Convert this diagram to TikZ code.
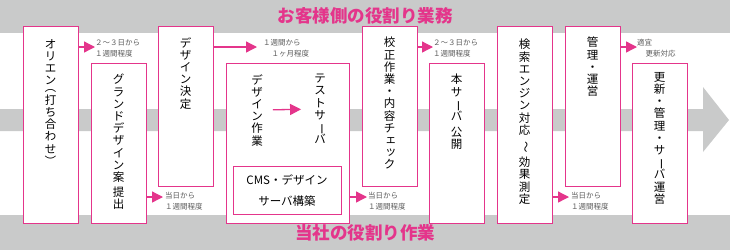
\documentclass[tikz,border=0pt]{standalone}
\usepackage{fontspec}
\usepackage{graphicx}
\usetikzlibrary{arrows.meta,calc}
\newfontfamily\jp{Noto Sans CJK JP}
\definecolor{pk}{HTML}{E4358B}
\definecolor{bandgray}{HTML}{C9CACA}
\definecolor{lblgray}{HTML}{5A5A5A}
\newcommand\vr[1]{\rotatebox[origin=c]{-90}{#1}}
\newcommand\sk[1]{\makebox[1em][c]{\hspace{0.22em}\raisebox{0.12em}{#1}}}
\newcommand\vsetup{\lineskiplimit-50pt\lineskip0pt\relax}
\begin{document}
\begin{tikzpicture}[x=1pt,y=-1pt,
  stage/.style={draw=pk, line width=1.3pt, fill=white, inner sep=0pt, anchor=north west},
  vtxt/.style={font={\jp\fontsize{11.5}{12.2}\selectfont\vsetup}, align=center, inner sep=0pt, anchor=north},
  note/.style={font={\jp\fontsize{7.5}{10.8}\selectfont}, text=lblgray, align=left, inner sep=0pt, anchor=west},
  flow/.style={draw=pk, line width=1.3pt, -{Triangle[length=11pt,width=11pt]}},
  head/.style={font={\jp\bfseries\fontsize{17.5}{20}\selectfont}, text=pk, inner sep=0pt}]
\useasboundingbox (0,0) rectangle (730,250);
% backgrounds
\fill[bandgray] (0,0) rectangle (730,33);
\fill[bandgray] (0,215) rectangle (730,250);
\fill[bandgray] (0,109) -- (703,109) -- (703,87) -- (729,120) -- (703,152) -- (703,131) -- (0,131) -- cycle;
% headings
\node[head] (h1) at (365,16) {お客様側の役割り業務};
\node[head] (h2) at (365,233) {当社の役割り作業};
% boxes
\node[stage, minimum width=55pt, minimum height=197pt] (b1) at (23,26) {};
\node[stage, minimum width=55pt, minimum height=160pt] (b2) at (91,63) {};
\node[stage, minimum width=55pt, minimum height=160pt] (b3) at (158,26) {};
\node[stage, minimum width=123pt, minimum height=160pt] (b4) at (226,63) {};
\node[stage, minimum width=108pt, minimum height=48pt] (cms) at (233,166) {};
\node[stage, minimum width=55pt, minimum height=160pt] (b5) at (362,26) {};
\node[stage, minimum width=55pt, minimum height=160pt] (b6) at (429,63) {};
\node[stage, minimum width=55pt, minimum height=197pt] (b7) at (497,26) {};
\node[stage, minimum width=55pt, minimum height=160pt] (b8) at (565,26) {};
\node[stage, minimum width=55pt, minimum height=160pt] (b9) at (632,63) {};
% box texts
\node[vtxt] (t1) at (50.5,39) {オ\\リ\\エ\\ン\\[-5pt]\vr{（}\\打\\ち\\合\\わ\\せ\\\vr{）}};
\node[vtxt] (t2) at (118.5,74) {グ\\ラ\\ン\\ド\\デ\\ザ\\イ\\ン\\案\\[3pt]提\\出};
\node[vtxt] (t3) at (185.5,37) {デ\\ザ\\イ\\ン\\決\\定};
\node[vtxt] (dz) at (257,74) {デ\\ザ\\イ\\ン\\作\\業};
\node[vtxt] (ts) at (320,74) {テ\\ス\\ト\\サ\\\vr{ー}\\バ};
\node[font={\jp\fontsize{11.5}{21}\selectfont}, align=center, inner sep=0pt] (cmst) at (287,190.5) {CMS・デザイン\\サーバ構築};
\node[vtxt] (t5) at (389.5,37) {校\\正\\作\\業\\・\\内\\容\\チ\\\sk{ェ}\\\sk{ッ}\\ク};
\node[vtxt] (t6) at (456.5,74) {本\\サ\\\vr{ー}\\バ\\[4pt]公\\開};
\node[vtxt] (t7) at (524.5,39) {検\\索\\エ\\ン\\ジ\\ン\\対\\応\\[4pt]\vr{～}\\[4pt]効\\果\\測\\定};
\node[vtxt] (t8) at (592.5,37) {管\\理\\・\\運\\営};
\node[vtxt] (t9) at (659.5,72) {更\\新\\・\\管\\理\\・\\サ\\\vr{ー}\\バ\\運\\営};
% notes
\node[note] (n1) at (95,48.5) {２～３日から\\１週間程度};
\node[note] (n2) at (165,201) {当日から\\１週間程度};
\node[note] (n3) at (263,48.5) {１週間から\\\hspace*{8.5pt}１ヶ月程度};
\node[note] (n4) at (368,201) {当日から\\１週間程度};
\node[note] (n5) at (433,48.5) {２～３日から\\１週間程度};
\node[note] (n7) at (571,201) {当日から\\１週間程度};
\node[note] (n8) at (637,48.5) {適宜\\\hspace*{8.5pt}更新対応};
% connectors
\draw[flow] (b1.east |- 0,47) -- (n1.west |- 0,47);
\draw[flow, shorten >=2pt] (b2.east |- 0,197) -- (n2.west |- 0,197);
\draw[flow, shorten >=6pt] (b3.east |- 0,47) -- (n3.west |- 0,47);
\draw[flow, shorten >=1pt] (b4.east |- 0,197) -- (n4.west |- 0,197);
\draw[flow] (b5.east |- 0,47) -- (n5.west |- 0,47);
\draw[flow, shorten >=2pt] (b7.east |- 0,197) -- (n7.west |- 0,197);
\draw[flow] (b8.east |- 0,47) -- (n8.west |- 0,47);
\draw[flow, shorten <=10pt, shorten >=13pt] (dz) -- (ts);
\end{tikzpicture}
\end{document}
